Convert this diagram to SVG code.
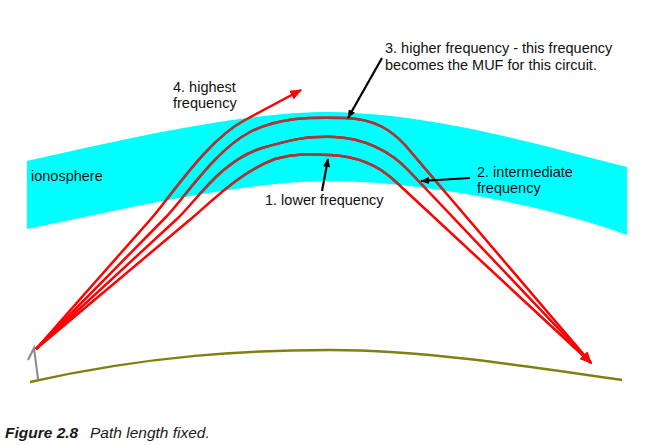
<svg xmlns="http://www.w3.org/2000/svg" xmlns:xlink="http://www.w3.org/1999/xlink" width="660" height="445" viewBox="0 0 660 445">
  <style>
    text { font-family: "Liberation Sans", Arial, sans-serif; font-size: 14.5px; fill: #111; }
    .ray { fill: none; stroke: #ff0000; stroke-width: 2.5; stroke-linejoin: round; }
    .rayin { fill: none; stroke: #a33a3a; stroke-width: 2.5; stroke-linejoin: round; }
    .ptr { fill: none; stroke: #000; stroke-width: 2.2; }
    .cap { font-size: 15.5px; font-style: italic; fill: #1a1a1a; }
  </style>
  <defs>
    <marker id="redHead" markerUnits="userSpaceOnUse" viewBox="0 0 10 8" refX="9" refY="4" markerWidth="12" markerHeight="10" orient="auto">
      <path d="M0,0 L10,4 L0,8 Z" fill="#ff0000"/>
    </marker>
    <marker id="blackHead" markerUnits="userSpaceOnUse" viewBox="0 0 10 8" refX="9" refY="4" markerWidth="9" markerHeight="8" orient="auto">
      <path d="M0,0 L10,4 L0,8 Z" fill="#000"/>
    </marker>
    <path id="bandShape" d="M27,161 C120,140 240,112 330,112 C440,114 550,148 627,167 L627,235 C560,210 430,180 320,181 C220,185 120,210 27,229 Z"/>
    <clipPath id="bandClip"><use xlink:href="#bandShape"/></clipPath>
    <path id="r4" d="M36,349 L150,220 C172,195 207,140 245,120 L301,90"/>
    <path id="r3" d="M36,349 L165,218 C183,200 215,150 250,132 C280,117 310,117 345,118 C375,119 391,130 405,145 L591,363"/>
    <path id="r2" d="M36,349 L178,218 C196,201 222,160 262,148 C290,140 305,136 335,137 C362,138 390,150 410,172 L591,363"/>
    <path id="r1" d="M36,349 L192,218 C212,201 240,172 275,159 C295,153 310,154 330,155 C355,156 378,165 395,181 L591,363"/>
  </defs>

  <g id="ionosphere">
    <use xlink:href="#bandShape" fill="#00ffff"/>
    <text x="31" y="181">ionosphere</text>
  </g>

  <g id="ground">
    <path d="M30,382 C150,355 250,350 330,350 C420,350 520,365 622,380" fill="none" stroke="#808010" stroke-width="2.5"/>
  </g>

  <g id="antenna">
    <polyline points="28,360 34,348 38,379" fill="none" stroke="#8a8a8a" stroke-width="2"/>
  </g>

  <g id="connectors">
    <use xlink:href="#r4" class="ray" marker-end="url(#redHead)"/>
    <use xlink:href="#r3" class="ray" marker-end="url(#redHead)"/>
    <use xlink:href="#r2" class="ray" marker-end="url(#redHead)"/>
    <use xlink:href="#r1" class="ray" marker-end="url(#redHead)"/>
    <g clip-path="url(#bandClip)" marker-end="none">
      <use xlink:href="#r4" class="rayin"/>
      <use xlink:href="#r3" class="rayin"/>
      <use xlink:href="#r2" class="rayin"/>
      <use xlink:href="#r1" class="rayin"/>
    </g>
    <line class="ptr" x1="382" y1="58" x2="348" y2="118" marker-end="url(#blackHead)"/>
    <line class="ptr" x1="322" y1="191" x2="328" y2="159" marker-end="url(#blackHead)"/>
    <line class="ptr" x1="470" y1="178" x2="421" y2="181" marker-end="url(#blackHead)"/>
  </g>

  <g id="label-highest">
    <text x="173" y="92">4. highest</text>
    <text x="173" y="108">frequency</text>
  </g>
  <g id="label-higher">
    <text x="385" y="53">3. higher frequency - this frequency</text>
    <text x="385" y="70">becomes the MUF for this circuit.</text>
  </g>
  <g id="label-lower">
    <text x="265" y="205">1. lower frequency</text>
  </g>
  <g id="label-intermediate">
    <text x="477" y="177">2. intermediate</text>
    <text x="477" y="193">frequency</text>
  </g>

  <g id="caption">
    <text class="cap" x="5" y="438"><tspan font-weight="bold">Figure 2.8</tspan><tspan x="90">Path length fixed.</tspan></text>
  </g>
</svg>
